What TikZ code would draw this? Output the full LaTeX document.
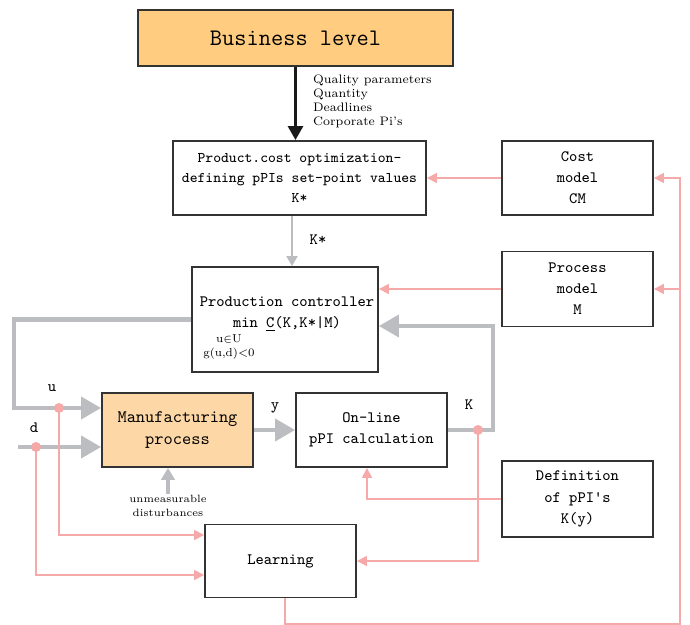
\documentclass[tikz,border=0pt]{standalone}
\usepackage{fontspec}
\usetikzlibrary{arrows.meta}

\definecolor{bizorange}{HTML}{FFCC80}
\definecolor{mfgorange}{HTML}{FDD8A6}
\definecolor{flowgray}{HTML}{BCBDC0}
\definecolor{infopink}{HTML}{F5A9A9}

\tikzset{
  box/.style={draw=black!80, line width=1.1pt, minimum width=3.02cm,
    minimum height=1.48cm, align=center, inner sep=1pt,
    font=\ttfamily\fontsize{9}{12}\selectfont},
  tag/.style={font=\ttfamily\fontsize{9}{11}\selectfont, inner sep=1pt},
  note/.style={font=\fontsize{7}{8}\selectfont, inner sep=1pt},
  lead/.style={draw=black!90, line width=1.7pt, -{Triangle[length=0.28cm,width=0.3cm]}},
  flow/.style={draw=flowgray, line width=2.3pt, -{Triangle[length=0.4cm,width=0.44cm]}},
  info/.style={draw=infopink, line width=1pt, -{Triangle[length=0.2cm,width=0.2cm]}},
  dot/.style={fill=infopink}
}

\begin{document}
\begin{tikzpicture}[x=0.02cm,y=-0.02cm]
\useasboundingbox (0,0) rectangle (690,625);

% boxes
\node[box, fill=bizorange, minimum width=6.3cm, minimum height=1.12cm,
  font=\ttfamily\fontsize{13.5}{16}\selectfont] (biz) at (295.5,38) {Business level};
\node[box, minimum width=5.06cm, font=\ttfamily\fontsize{8.4}{11.3}\selectfont] (prod) at (299.5,178)
  {Product.cost optimization-\\defining pPIs set-point values\\K*};
\node[box, minimum width=3.72cm, minimum height=2.1cm] (ctrl) at (285,319.5) {};
\node[tag, align=center, font=\ttfamily\fontsize{9}{12.5}\selectfont] at (287,314)
  {Production controller\\min \underline{C}(K,K*|M)};
\node[note, align=center, font=\fontsize{6.5}{8}\selectfont] at (229,347) {u$\in$U\\g(u,d)<0};
\node[box] (cost) at (577.5,178) {Cost\\model\\CM};
\node[box, minimum height=1.5cm] (pmod) at (577.5,289) {Process\\model\\M};
\node[box, fill=mfgorange, font=\ttfamily\fontsize{10}{12}\selectfont] (mfg) at (177.5,430) {Manufacturing\\process};
\node[box] (onl) at (371.5,430) {On-line\\pPI calculation};
\node[box, minimum height=1.52cm] (defn) at (577.5,499) {Definition\\of pPI's\\K(y)};
\node[box, minimum height=1.46cm] (learn) at (280.5,561) {Learning};

% business level to optimisation
\draw[lead] (biz.south) -- (biz.south |- prod.north);
\node[note, align=left, anchor=west] at (311,101)
  {Quality parameters\\Quantity\\Deadlines\\Corporate Pi's};

% material flow
\coordinate (kx) at (292,0);
\draw[flow, line width=1.3pt, -{Triangle[length=0.2cm,width=0.22cm]}]
  (prod.south -| kx) -- (ctrl.north -| kx);
\node[tag] at (318,240) {K*};

\coordinate (ucorner) at (14,408);
\draw[flow] (ctrl.west) -| (ucorner) -- (mfg.west |- ucorner);
\node[tag] at (52,388) {u};
\coordinate (dstart) at (18,447);
\draw[flow] (dstart) -- (mfg.west |- dstart);
\node[tag] at (34,428) {d};

\draw[flow] (mfg.east) -- (onl.west);
\node[tag] at (275,408) {y};

\coordinate (kup) at (493,326);
\draw[flow] (onl.east) -| (kup) -- (ctrl.east |- kup);
\node[tag] at (469,405) {K};

\node[note, align=center, font=\fontsize{6}{8}\selectfont] (dist) at (168,506) {unmeasurable\\disturbances};
\draw[flow, line width=1.8pt, -{Triangle[length=0.24cm,width=0.27cm]}]
  ([yshift=-0.02cm]dist.north) -- (dist.north |- mfg.south);

% information flow
\coordinate (udot) at (59,408);
\coordinate (ddot) at (36,447);
\coordinate (kdot) at (478,430);
\draw[info] (cost.west) -- (prod.east);
\draw[info] (pmod.west) -- (ctrl.east |- pmod.west);
\coordinate (dturn) at (367,499);
\draw[info] (defn.west) -- (dturn) -- (dturn |- onl.south);
\draw[info] (udot) |- ([yshift=0.52cm]learn.west);
\draw[info] (ddot) |- ([yshift=-0.28cm]learn.west);
\draw[info] (kdot) |- (learn.east);
\coordinate (rb) at (680,624);
\draw[info] ([xshift=0.09cm]learn.south) |- (rb) |- (cost.east);
\draw[info] (rb |- pmod.east) -- (pmod.east);
\foreach \p in {udot,ddot,kdot}
  \fill[dot] (\p) circle (0.1cm);
\end{tikzpicture}
\end{document}
